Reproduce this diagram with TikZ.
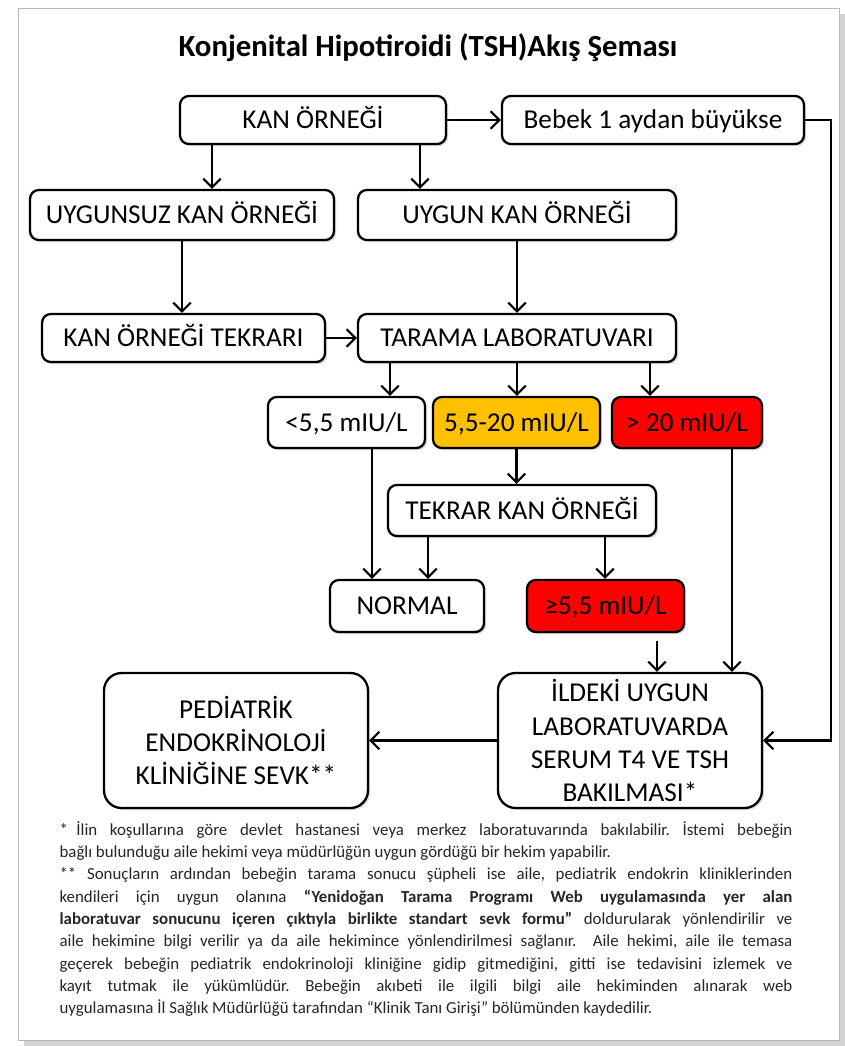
\documentclass[tikz,border=0pt]{standalone}
\usepackage{fontspec}
\setmainfont{Carlito}
\usetikzlibrary{arrows.meta,shadows}

\definecolor{sari}{HTML}{FFC000}
\definecolor{kirmizi}{HTML}{FF0000}

\begin{document}
\begin{tikzpicture}[x=0.02cm,y=-0.02cm,
  box/.style={draw, line width=1.3pt, rounded corners=5pt, align=center, inner sep=0pt,
    fill=white, font=\fontsize{15.5}{18.8}\selectfont,
    drop shadow={shadow xshift=1.2pt, shadow yshift=-1.2pt, opacity=0.3}},
  tek/.style={box, text height=10pt, text depth=0pt},
  bigbox/.style={box, rounded corners=10pt, minimum width=5.28cm, minimum height=2.7cm},
  arr/.style={line width=1.2pt, -{Straight Barb[length=5pt,width=10pt]}}]

\useasboundingbox (0,0) rectangle (845,1046);
% sayfa cercevesi
\fill[gray!35] (24,14) rectangle (845,1046);
\draw[gray!55, fill=white] (18,8) rectangle (839,1040);

\node[font=\bfseries\fontsize{17.5}{21}\selectfont] (baslik) at (428,48) {Konjenital Hipotiroidi (TSH)Akış Şeması};

\node[tek, minimum width=5.32cm, minimum height=0.96cm] (kan) at (313,120) {KAN ÖRNEĞİ};
\node[tek, minimum width=6.04cm, minimum height=0.96cm] (bebek) at (653,120) {Bebek 1 aydan büyükse};
\node[tek, minimum width=6.08cm, minimum height=1cm] (uygunsuz) at (182,215) {UYGUNSUZ KAN ÖRNEĞİ};
\node[tek, minimum width=6.36cm, minimum height=1cm] (uygun) at (517,215) {UYGUN KAN ÖRNEĞİ};
\node[tek, minimum width=5.66cm, minimum height=0.96cm] (tekrari) at (183.5,338) {KAN ÖRNEĞİ TEKRARI};
\node[tek, minimum width=6.36cm, minimum height=0.96cm] (tarama) at (517,338) {TARAMA LABORATUVARI};
\node[tek, minimum width=3.14cm, minimum height=1.02cm] (dusuk) at (346.5,422.5) {<5,5 mIU/L};
\node[tek, fill=sari, minimum width=3.34cm, minimum height=1.02cm] (orta) at (516.5,422.5) {5,5-20 mIU/L};
\node[tek, fill=kirmizi, minimum width=3cm, minimum height=1.02cm] (yuksek) at (687,422.5) {> 20 mIU/L};
\node[tek, minimum width=5.36cm, minimum height=1.02cm] (tekrar) at (522,510.5) {TEKRAR KAN ÖRNEĞİ};
\node[tek, minimum width=3.08cm, minimum height=1.04cm] (normal) at (407,606) {NORMAL};
\node[tek, fill=kirmizi, minimum width=3.14cm, minimum height=1.04cm] (ikinci) at (605.5,606) {≥5,5 mIU/L};
\node[bigbox] (ildeki) at (630,740.5) {İLDEKİ UYGUN\\LABORATUVARDA\\SERUM T4 VE TSH\\BAKILMASI*};
\node[bigbox] (pediatri) at (236,740.5) {PEDİATRİK\\ENDOKRİNOLOJİ\\KLİNİĞİNE SEVK**};

% oklar
\coordinate (k1) at ([xshift=-2.02cm]kan.south);
\coordinate (k2) at ([xshift=2.14cm]kan.south);
\coordinate (t1) at ([xshift=-2.54cm]tarama.south);
\coordinate (t3) at ([xshift=2.66cm]tarama.south);
\coordinate (d1) at ([xshift=0.51cm]dusuk.south);
\coordinate (r1) at ([xshift=-1.88cm]tekrar.south);
\coordinate (r2) at ([xshift=1.66cm]tekrar.south);
\coordinate (i1) at ([xshift=1.03cm,yshift=-0.16cm]ikinci.south);
\coordinate (y1) at ([xshift=0.9cm]yuksek.south);
\coordinate (sag) at ([xshift=0.52cm]bebek.east);

\draw[arr] (kan) -- (bebek);
\draw[arr] (k1) -- (k1 |- uygunsuz.north);
\draw[arr] (k2) -- (k2 |- uygun.north);
\draw[arr] (uygunsuz.south) -- (uygunsuz.south |- tekrari.north);
\draw[arr] (uygun) -- (tarama);
\draw[arr] (tekrari) -- (tarama);
\draw[arr] (t1) -- (t1 |- dusuk.north);
\draw[arr] (tarama.south) -- (tarama.south |- orta.north);
\draw[arr] (t3) -- (t3 |- yuksek.north);
\draw[arr] (d1) -- (d1 |- normal.north);
\draw[arr] (orta.south) -- (orta.south |- tekrar.north);
\draw[arr] (r1) -- (r1 |- normal.north);
\draw[arr] (r2) -- (r2 |- ikinci.north);
\draw[arr] (i1) -- (i1 |- ildeki.north);
\draw[arr] (y1) -- (y1 |- ildeki.north);
\draw[arr] (bebek.east) -- (sag) |- (ildeki.east);
\draw[arr] (ildeki) -- (pediatri);

\node[anchor=north, text width=14.66cm, align=justify, inner sep=0pt,
  font=\fontsize{9.6}{12.7}\selectfont\frenchspacing, text=black!85] (dipnot) at (426,821) {%
*\hspace{0.5em}İlin koşullarına göre devlet hastanesi veya merkez laboratuvarında bakılabilir. İstemi bebeğin\linebreak
bağlı bulunduğu aile hekimi veya müdürlüğün uygun gördüğü bir hekim yapabilir.\par
** Sonuçların ardından bebeğin tarama sonucu şüpheli ise aile, pediatrik endokrin kliniklerinden\linebreak
kendileri için uygun olanına \textbf{“Yenidoğan Tarama Programı Web uygulamasında yer alan}\linebreak
\textbf{laboratuvar sonucunu içeren çıktıyla birlikte standart sevk formu”} doldurularak yönlendirilir ve\linebreak
aile hekimine bilgi verilir ya da aile hekimince yönlendirilmesi sağlanır.\ \ Aile hekimi, aile ile temasa\linebreak
geçerek bebeğin pediatrik endokrinoloji kliniğine gidip gitmediğini, gitti ise tedavisini izlemek ve\linebreak
kayıt tutmak ile yükümlüdür. Bebeğin akıbeti ile ilgili bilgi aile hekiminden alınarak web\linebreak
uygulamasına İl Sağlık Müdürlüğü tarafından “Klinik Tanı Girişi” bölümünden kaydedilir.};
\end{tikzpicture}
\end{document}
